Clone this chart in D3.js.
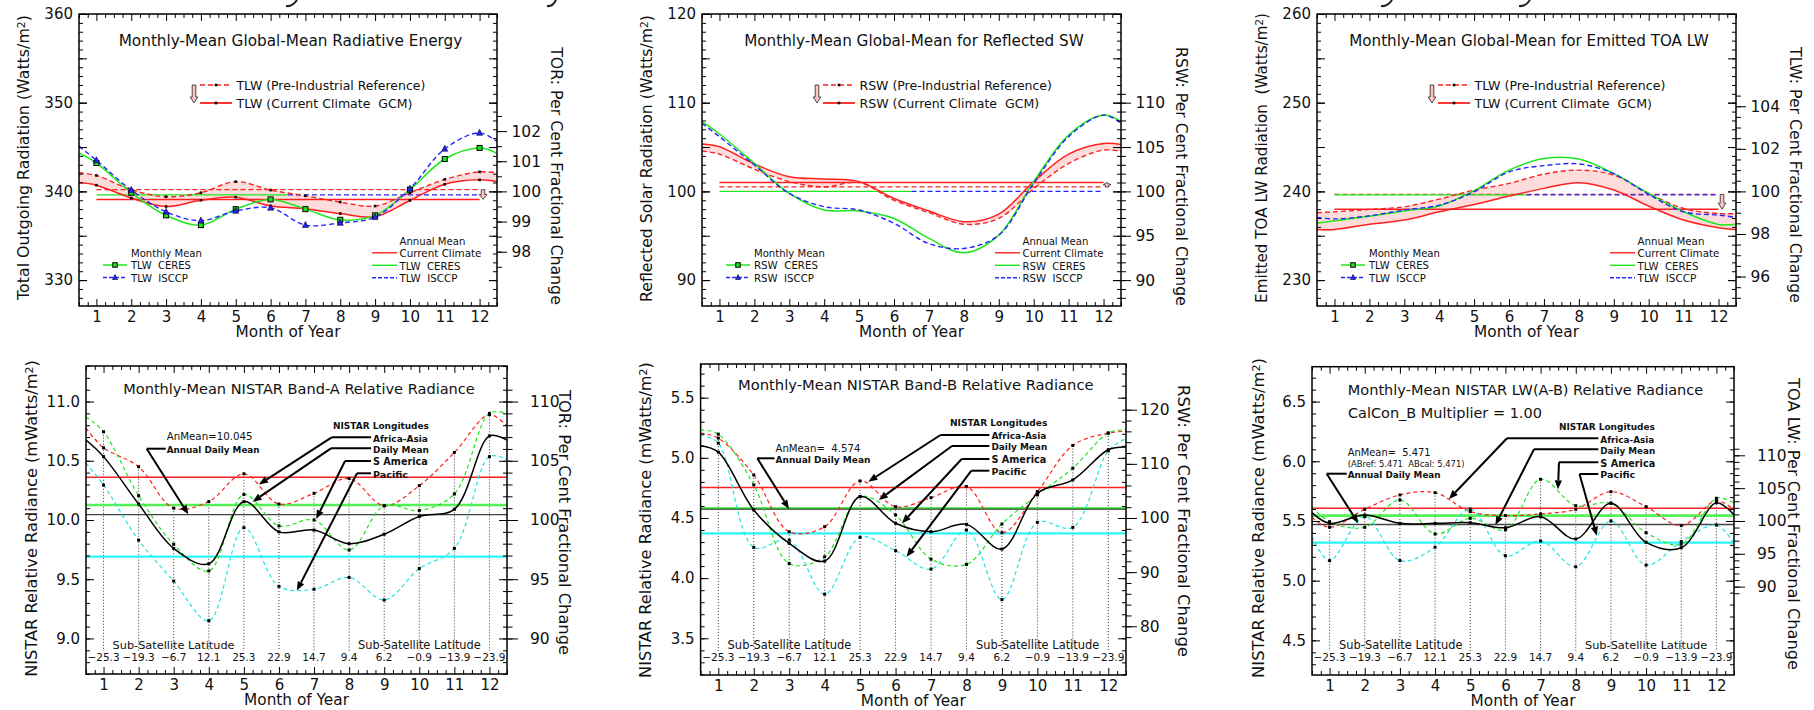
<!DOCTYPE html>
<html>
<head>
<meta charset="utf-8">
<script src="https://cdn.jsdelivr.net/npm/d3@7"></script>
<style>
  body { margin: 0; background: #fff; }
  svg text { font-family: "DejaVu Sans", sans-serif; fill: #111; white-space: pre; }
</style>
</head>
<body>
<svg id="chart" width="1814" height="710"></svg>
<script>
/*global d3*/

// months: curves run from the left frame edge (0.5) to the right one (12.5)
const xs = [0.5, 1, 2, 3, 4, 5, 6, 7, 8, 9, 10, 11, 12, 12.5];
const months = [1, 2, 3, 4, 5, 6, 7, 8, 9, 10, 11, 12];
const latitudes = ["\u221225.3", "\u221219.3", "\u22126.7", "12.1", "25.3", "22.9",
                   "14.7", "9.4", "6.2", "\u22120.9", "\u221213.9", "\u221223.9"];

// top left: total outgoing radiation (W/m2)
const tlwPre   = [342.1, 341.8, 340.2, 339.4, 339.85, 341.1, 340.15, 339.5, 338.8, 338.35, 339.85, 341.35, 342.2, 342.1];
const tlwCur   = [341.0, 340.7, 339.25, 338.3, 339.0, 339.35, 338.35, 338.05, 337.5, 337.15, 338.98, 340.8, 341.3, 341.1];
const tlwCeres = [344.3, 343.2, 339.85, 337.3, 336.2, 338.0, 339.1, 338.0, 336.8, 337.3, 340.2, 343.65, 344.9, 344.3];
const tlwIsccp = [345.1, 343.5, 340.15, 337.7, 336.7, 337.8, 338.15, 336.2, 336.45, 337.1, 340.3, 344.8, 346.6, 345.6];
const tlwMeans = [340.2, 339.1, 339.6, 339.6];   // pre, current, ceres, isccp

// top middle: reflected SW
const rswPre   = [104.55, 104.2, 102.5, 101.1, 100.5, 101.0, 99.0, 97.6, 96.3, 96.95, 100.3, 103.15, 104.66, 104.5];
const rswCur   = [105.34, 105.04, 103.1, 101.65, 101.4, 101.1, 99.2, 97.8, 96.58, 97.44, 101.1, 104.2, 105.4, 105.3];
const rswCeres = [107.86, 106.47, 103.16, 99.77, 97.9, 97.8, 96.95, 94.7, 93.08, 95.07, 101.1, 106.35, 108.6, 107.86];
const rswIsccp = [107.67, 106.17, 102.97, 99.77, 98.27, 97.9, 96.4, 94.1, 93.57, 95.07, 100.9, 106.17, 108.6, 107.7];
const rswMeans = [100.5, 101.0, 100.0, 100.0];

// top right: emitted TOA LW
const olrPre   = [237.6, 237.7, 237.97, 238.27, 239.13, 240.15, 240.9, 241.95, 242.4, 241.84, 239.77, 238.08, 237.5, 237.5];
const olrCur   = [235.7, 235.7, 236.3, 236.77, 237.7, 238.53, 239.47, 240.34, 240.98, 240.15, 238.35, 236.77, 235.9, 235.7];
const olrCeres = [236.4, 236.7, 237.2, 237.8, 238.35, 240.08, 242.4, 243.7, 243.65, 242.0, 239.77, 237.7, 236.28, 236.3];
const olrIsccp = [237.07, 236.9, 237.25, 237.9, 238.46, 239.96, 242.2, 242.9, 243.1, 242.0, 239.66, 237.7, 237.33, 237.07];
const olrMeans = [239.66, 238.0, 239.6, 239.6];

// bottom left: NISTAR band A (mW/m2)
const aAfrica  = [10.775, 10.61, 10.45, 10.10, 10.155, 10.39, 10.135, 10.225, 10.35, 10.12, 10.29, 10.57, 10.89, 10.79];
const aSAm     = [10.87, 10.745, 10.205, 9.795, 9.57, 10.215, 9.95, 10.0, 9.747, 10.12, 10.08, 10.22, 10.90, 10.90];
const aDaily   = [10.675, 10.535, 10.135, 9.76, 9.63, 10.155, 9.90, 9.915, 9.80, 9.88, 10.03, 10.09, 10.71, 10.675];
const aPacific = [10.48, 10.295, 9.83, 9.485, 9.15, 9.935, 9.44, 9.415, 9.515, 9.325, 9.59, 9.76, 10.535, 10.51];
const aMeans   = [10.36, 10.127, 10.045, 9.69];   // africa, s america, daily, pacific

// bottom middle: NISTAR band B
const bAfrica  = [5.206, 5.164, 4.858, 4.386, 4.428, 4.808, 4.594, 4.669, 4.761, 4.378, 4.719, 5.103, 5.206, 5.22];
const bSAm     = [5.233, 5.197, 4.775, 4.122, 4.178, 4.678, 4.525, 4.158, 4.114, 4.45, 4.692, 4.914, 5.206, 5.233];
const bDaily   = [5.1, 5.047, 4.567, 4.289, 4.142, 4.678, 4.456, 4.386, 4.447, 4.242, 4.706, 4.817, 5.067, 5.09];
const bPacific = [5.19, 5.122, 4.256, 4.317, 3.867, 4.339, 4.228, 4.075, 4.4, 3.822, 4.464, 4.422, 5.058, 5.16];
const bMeans   = [4.753, 4.58, 4.574, 4.372];

// bottom right: NISTAR LW (A-B)
const lwAfrica  = [5.53, 5.447, 5.598, 5.718, 5.737, 5.578, 5.545, 5.559, 5.598, 5.745, 5.62, 5.461, 5.67, 5.592];
const lwSAm     = [5.62, 5.494, 5.447, 5.676, 5.391, 5.522, 5.425, 5.849, 5.628, 5.648, 5.402, 5.305, 5.69, 5.65];
const lwDaily   = [5.57, 5.48, 5.55, 5.48, 5.48, 5.486, 5.444, 5.536, 5.349, 5.648, 5.321, 5.276, 5.653, 5.55];
const lwPacific = [5.368, 5.168, 5.536, 5.168, 5.28, 5.6, 5.209, 5.332, 5.117, 5.5, 5.131, 5.327, 5.466, 5.313];
const lwMeans   = [5.606, 5.545, 5.471, 5.318];

const RED = '#ff2020', GREEN = '#1ee61e', BLUE = '#2424ff', CYAN = '#20e4e4', PINK = '#ffdcdc';

const svg = d3.select('#chart');
const defs = svg.append('defs');

function vals(a, b, step) {
    const out = [];
    for (let i = Math.ceil(a / step - 1e-9); i * step <= b + 1e-9; i++) out.push(+(i * step).toFixed(6));
    return out;
}

// scale the font so the text spans w pixels
function fit(t, w) {
    const len = t.node().getComputedTextLength();
    if (len > 0) t.attr('font-size', +t.attr('font-size') * w / len);
    return t;
}

function txt(g, x, y, s, o = {}) {
    const t = g.append('text').attr('x', x).attr('y', y)
        .attr('font-size', o.size || 12)
        .attr('text-anchor', o.anchor || 'start')
        .text(s);
    if (o.bold) t.attr('font-weight', 'bold');
    if (o.w) fit(t, o.w);
    return t;
}

function vlabel(g, x, y, main, rot, w) {
    const t = g.append('text')
        .attr('transform', `translate(${x},${y}) rotate(${rot})`)
        .attr('text-anchor', 'middle').attr('dy', '0.36em').attr('font-size', 16);
    if (main.indexOf('^') >= 0) {
        const [a, b] = main.split('^');
        t.append('tspan').text(a);
        t.append('tspan').attr('baseline-shift', '38%').style('font-size', '0.68em').text(b[0]);
        t.append('tspan').text(b.slice(1));
    } else {
        t.text(main);
    }
    fit(t, w);
}

function styleTicks(sel, size) {
    sel.select('.domain').remove();
    sel.selectAll('.tick line').attr('stroke', '#000').attr('stroke-width', 1);
    sel.selectAll('.tick text').attr('font-size', size || 15)
        .attr('font-family', '"DejaVu Sans", sans-serif').attr('fill', '#111');
}

function frame(c) {
    const x = d3.scaleLinear().domain([0.5, 12.5]).range([c.x0, c.x1]);
    const y = d3.scaleLinear().domain(c.yDom).range([c.y1, c.y0]);
    const g = svg.append('g');
    defs.append('clipPath').attr('id', 'clip' + c.id)
        .append('rect').attr('x', c.x0).attr('y', c.y0)
        .attr('width', c.x1 - c.x0).attr('height', c.y1 - c.y0);
    const plot = g.append('g').attr('clip-path', `url(#clip${c.id})`);
    return { x, y, g, plot };
}

function axes(c, x, y, g) {
    const [lo, hi] = c.yDom;
    const add = (tr, axis, size) => g.append('g').attr('transform', tr).call(axis).call(s => styleTicks(s, size));
    const L = `translate(${c.x0},0)`, R = `translate(${c.x1},0)`;
    const B = `translate(0,${c.y1})`, T = `translate(0,${c.y0})`;

    // left axis + inner mirror on the right
    const minorY = vals(lo, hi, c.yMinor), majorY = vals(lo, hi, c.yMajor);
    add(L, d3.axisLeft(y).tickValues(minorY).tickSize(-4).tickFormat(''));
    add(R, d3.axisRight(y).tickValues(minorY).tickSize(-4).tickFormat(''));
    if (c.yMid) {
        add(L, d3.axisLeft(y).tickValues(vals(lo, hi, c.yMid)).tickSize(-8).tickFormat(''));
        add(R, d3.axisRight(y).tickValues(vals(lo, hi, c.yMid)).tickSize(-8).tickFormat(''));
    }
    add(L, d3.axisLeft(y).tickValues(majorY).tickSize(-8).tickPadding(6).tickFormat(d3.format(c.yFmt)));
    add(R, d3.axisRight(y).tickValues(majorY).tickSize(-8).tickFormat(''));

    // month axes, quarter-month minor ticks
    const quarters = vals(0.5, 12.5, 0.25).filter(v => v % 1 !== 0);
    add(B, d3.axisBottom(x).tickValues(quarters).tickSize(-4).tickFormat(''));
    add(T, d3.axisTop(x).tickValues(quarters).tickSize(-4).tickFormat(''));
    add(B, d3.axisBottom(x).tickValues(months).tickSize(-7).tickPadding(5).tickFormat(d3.format('d')));
    add(T, d3.axisTop(x).tickValues(months).tickSize(-7).tickFormat(''));

    // percent axis on the right
    const p = d3.scaleLinear().domain(y.domain().map(v => v / c.base * 100)).range(y.range());
    add(R, d3.axisRight(p).tickValues(vals(c.pRange[0], c.pRange[1], c.pMinor)).tickSize(c.pTick / 2).tickFormat(''));
    add(R, d3.axisRight(p).tickValues(vals(c.pRange[0], c.pRange[1], c.pMajor))
        .tickSize(c.pTick).tickPadding(c.pGap - c.pTick).tickFormat(d3.format('d')), 15.5);

    g.append('rect').attr('x', c.x0).attr('y', c.y0).attr('width', c.x1 - c.x0).attr('height', c.y1 - c.y0)
        .attr('fill', 'none').attr('stroke', '#000').attr('stroke-width', 1.5);

    const cx = (c.x0 + c.x1) / 2;
    txt(g, cx, c.y1 + 31, 'Month of Year', { size: 14, anchor: 'middle', w: 105 });
    txt(g, cx + 2.5, c.titleY, c.title, { size: 14, anchor: 'middle', w: c.titleW });
    vlabel(g, c.leftX, c.leftY, c.leftLabel, -90, c.leftW);
    vlabel(g, c.rightX, c.rightY, c.rightLabel, 90, c.rightW);
}

function pinkArrow(g, cx, y0, y1) {
    const len = y1 - y0, dir = len < 0 ? -1 : 1;
    const head = Math.min(6, Math.abs(len) * 0.5) * dir;
    const sw = 1.8, hw = 3.8;
    g.append('path')
        .attr('d', `M${cx - sw},${y0}L${cx + sw},${y0}L${cx + sw},${y1 - head}L${cx + hw},${y1 - head}` +
                   `L${cx},${y1}L${cx - hw},${y1 - head}L${cx - sw},${y1 - head}Z`)
        .attr('fill', '#ffc4c4').attr('stroke', '#222').attr('stroke-width', 0.8);
}

function square(g, cx, cy, s, fill) {
    g.append('rect').attr('x', cx - s / 2).attr('y', cy - s / 2).attr('width', s).attr('height', s)
        .attr('fill', fill).attr('stroke', '#000').attr('stroke-width', fill === '#000' ? 0 : 1);
}

function triangle(g, cx, cy, s, fill) {
    g.append('path').attr('d', `M${cx},${cy - s * 0.6}L${cx + s / 2},${cy + s * 0.4}L${cx - s / 2},${cy + s * 0.4}Z`)
        .attr('fill', fill).attr('stroke', '#002').attr('stroke-width', 0.6);
}

const curve = d3.curveCatmullRom.alpha(0.5);

function radPanel(c, d) {
    const { x, y, g, plot } = frame(c);
    const rows = xs.map((m, i) => ({ m, pre: d.pre[i], cur: d.cur[i], ceres: d.ceres[i], isccp: d.isccp[i] }));

    plot.append('path').datum(rows)
        .attr('d', d3.area().x(r => x(r.m)).y0(r => y(r.cur)).y1(r => y(r.pre)).curve(curve))
        .attr('fill', PINK);

    const hline = (v, m0, m1, col, dash, w) => plot.append('line')
        .attr('x1', x(m0)).attr('x2', x(m1)).attr('y1', y(v)).attr('y2', y(v))
        .attr('stroke', col).attr('stroke-width', w).attr('stroke-dasharray', dash);
    hline(d.means[0], 1, 12, RED, '5,3', 1.2);
    hline(d.means[1], 1, 12, RED, null, 1.5);
    hline(d.means[2], 1, 6.5, GREEN, null, 1.3);
    hline(d.means[3], 6.5, 12, BLUE, '5,3', 1.2);

    const ln = key => d3.line().x(r => x(r.m)).y(r => y(r[key])).curve(curve);
    const path = (key, col, dash, w) => plot.append('path').datum(rows).attr('d', ln(key))
        .attr('fill', 'none').attr('stroke', col).attr('stroke-width', w).attr('stroke-dasharray', dash);
    path('pre', RED, '5,3', 1.4);
    path('cur', RED, null, 1.5);
    path('ceres', GREEN, null, 1.5);
    path('isccp', BLUE, '5,3', 1.4);

    if (c.markers) {
        rows.slice(1, 13).forEach(r => {
            square(plot, x(r.m), y(r.pre), 2.6, '#000');
            square(plot, x(r.m), y(r.cur), 2.6, '#000');
            square(plot, x(r.m), y(r.ceres), 5, GREEN);
            triangle(plot, x(r.m), y(r.isccp), 6, BLUE);
        });
    }

    // arrow between the two annual means
    pinkArrow(g, x(12.1), y(d.means[0]), y(d.means[1]));

    axes(c, x, y, g);

    // legends
    const L = c.x0;
    pinkArrow(g, L + 115, 85, 103);
    g.append('line').attr('x1', L + 121).attr('x2', L + 153).attr('y1', 85).attr('y2', 85)
        .attr('stroke', RED).attr('stroke-width', 1.4).attr('stroke-dasharray', '5,3');
    square(g, L + 137, 85, 2.6, '#000');
    txt(g, L + 157.5, 89.5, `${c.q} (Pre-Industrial Reference)`, { w: c.legW[0] });
    g.append('line').attr('x1', L + 121).attr('x2', L + 153).attr('y1', 103).attr('y2', 103)
        .attr('stroke', RED).attr('stroke-width', 1.8);
    square(g, L + 137, 103, 2.6, '#000');
    txt(g, L + 157.5, 107.5, `${c.q} (Current Climate  GCM)`, { w: c.legW[1] });

    txt(g, L + 52, 256.5, 'Monthly Mean', { size: 10, w: c.mmW[0] });
    g.append('line').attr('x1', L + 24).attr('x2', L + 48).attr('y1', 265).attr('y2', 265)
        .attr('stroke', GREEN).attr('stroke-width', 1.5);
    square(g, L + 36, 265, 4.5, GREEN);
    txt(g, L + 52, 269, `${c.q}  CERES`, { size: 10, w: c.mmW[1] });
    g.append('line').attr('x1', L + 24).attr('x2', L + 48).attr('y1', 277.5).attr('y2', 277.5)
        .attr('stroke', BLUE).attr('stroke-width', 1.4).attr('stroke-dasharray', '4,2');
    triangle(g, L + 36, 277.5, 5, BLUE);
    txt(g, L + 52, 281.5, `${c.q}  ISCCP`, { size: 10, w: c.mmW[2] });

    const A = L + 320.5;
    txt(g, A, 245, 'Annual Mean', { size: 10, w: c.amW[0] });
    const samp = (yy, col, dash) => g.append('line').attr('x1', L + 293).attr('x2', L + 318).attr('y1', yy).attr('y2', yy)
        .attr('stroke', col).attr('stroke-width', 1.4).attr('stroke-dasharray', dash);
    samp(252.8, RED, null);
    txt(g, A, 257, 'Current Climate', { size: 10, w: c.amW[1] });
    samp(265.3, GREEN, null);
    txt(g, A, 269.5, `${c.q}  CERES`, { size: 10, w: c.amW[2] });
    samp(277.7, BLUE, '4,2');
    txt(g, A, 282, `${c.q}  ISCCP`, { size: 10, w: c.amW[3] });
}

function arrowLine(g, x0, y0, x1, y1) {
    const a = Math.atan2(y1 - y0, x1 - x0), hl = 9, hw = 3.6;
    const bx = x1 - hl * Math.cos(a), by = y1 - hl * Math.sin(a);
    g.append('line').attr('x1', x0).attr('y1', y0).attr('x2', bx).attr('y2', by)
        .attr('stroke', '#000').attr('stroke-width', 2);
    g.append('path').attr('d', `M${x1},${y1}L${bx + hw * Math.sin(a)},${by - hw * Math.cos(a)}` +
                               `L${bx - hw * Math.sin(a)},${by + hw * Math.cos(a)}Z`).attr('fill', '#000');
}

function nistarPanel(c, s) {
    const { x, y, g, plot } = frame(c);
    const series = [
        { v: s.africa, mean: s.means[0], col: RED, dash: '4,3', mcol: RED, mw: 1.5 },
        { v: s.sam, mean: s.means[1], col: GREEN, dash: '4,3', mcol: '#55f055', mw: 2.6 },
        { v: s.pacific, mean: s.means[3], col: CYAN, dash: '4,3', mcol: '#2ef6f6', mw: 2.2 },
        { v: s.daily, mean: s.means[2], col: '#000', dash: null, mcol: '#444', mw: 1.4 }
    ];

    months.forEach((m, k) => {
        const top = d3.max(series, ser => ser.v[k + 1]);
        plot.append('line').attr('x1', x(m)).attr('x2', x(m)).attr('y1', y(top)).attr('y2', c.dotBottom)
            .attr('stroke', '#000').attr('stroke-width', 0.8).attr('stroke-dasharray', '1,2');
    });
    series.forEach(ser => plot.append('line').attr('x1', x(0.5)).attr('x2', x(12.5))
        .attr('y1', y(ser.mean)).attr('y2', y(ser.mean))
        .attr('stroke', ser.mcol).attr('stroke-width', ser.mw));

    const ln = arr => d3.line().x((v, i) => x(xs[i])).y(v => y(v)).curve(curve)(arr);
    series.forEach(ser => plot.append('path').attr('d', ln(ser.v)).attr('fill', 'none')
        .attr('stroke', ser.col).attr('stroke-width', ser.dash ? 1.2 : 1.5).attr('stroke-dasharray', ser.dash));
    series.forEach(ser => months.forEach((m, k) => square(plot, x(m), y(ser.v[k + 1]), 3, '#000')));

    axes(c, x, y, g);

    // latitude row
    c.subsat.forEach(([sx, sw]) => txt(g, sx, c.dotBottom - 2, 'Sub-Satellite Latitude', { size: 12, w: sw }));
    months.forEach((m, k) => txt(g, x(m), c.dotBottom + 10, latitudes[k], { size: 10.5, anchor: 'middle' }));

    // annual mean note
    c.notes.forEach(n => txt(g, c.noteX, n.y, n.s, { size: n.size || 11, bold: n.bold, w: n.w }));
    const adm = c.admLeader;
    g.append('line').attr('x1', adm.knee[0]).attr('x2', c.noteX - 1).attr('y1', adm.knee[1]).attr('y2', adm.knee[1])
        .attr('stroke', '#000').attr('stroke-width', 2);
    arrowLine(g, adm.knee[0], adm.knee[1], x(adm.tip[0]), y(adm.tip[1]));

    // longitude legend
    txt(g, c.lonHead[0], c.lonHead[1], 'NISTAR Longitudes', { size: 11, bold: true, w: c.lonHead[2] });
    c.lon.forEach(d => {
        txt(g, c.lonX, d.y + 4.3, d.s, { size: 11, bold: true, w: d.w });
        g.append('line').attr('x1', d.knee).attr('x2', c.lonX - 2).attr('y1', d.y).attr('y2', d.y)
            .attr('stroke', '#000').attr('stroke-width', 2);
        arrowLine(g, d.knee, d.y, x(d.tip[0]), y(d.tip[1]));
    });
    if (c.extra) c.extra(g);
}

// descenders of the figure heading that is cut off above the page
[[297, 286], [556, 547], [1392, 1381], [1530, 1519]].forEach(([a, b]) =>
    svg.append('path').attr('d', `M${a},0Q${(a + b) / 2 + 1},7 ${b},6`)
        .attr('fill', 'none').attr('stroke', '#222').attr('stroke-width', 2));

// ---------- top row ----------
const topBase = { titleY: 46, yMinor: 1, yMid: 5, yMajor: 10, yFmt: 'd', pMinor: 0.5, pTick: 10, pGap: 14.5, markers: false };

radPanel(Object.assign({}, topBase, {
    id: 1, x0: 79, x1: 497, y0: 14, y1: 306, yDom: [327.08, 360], base: 340, pRange: [97.5, 102.5], pMajor: 1,
    title: 'Monthly-Mean Global-Mean Radiative Energy', titleW: 344,
    leftLabel: 'Total Outgoing Radiation (Watts/m^2)', leftX: 23, leftY: 157.5, leftW: 285,
    rightLabel: 'TOR: Per Cent Fractional Change', rightX: 557, rightY: 176, rightW: 258,
    q: 'TLW', legW: [189, 176], mmW: [71, 60, 57], amW: [66, 82, 61, 58], markers: true
}), { pre: tlwPre, cur: tlwCur, ceres: tlwCeres, isccp: tlwIsccp, means: tlwMeans });

radPanel(Object.assign({}, topBase, {
    id: 2, x0: 702, x1: 1121, y0: 14, y1: 306, yDom: [87.08, 120], base: 100, pRange: [88, 111], pMajor: 5, pMinor: 1,
    title: 'Monthly-Mean Global-Mean for Reflected SW', titleW: 340,
    leftLabel: 'Reflected Solar Radiation (Watts/m^2)', leftX: 646.6, leftY: 158.5, leftW: 287,
    rightLabel: 'RSW: Per Cent Fractional Change', rightX: 1181.5, rightY: 176.5, rightW: 259,
    q: 'RSW', legW: [192.5, 180], mmW: [71, 64, 60], amW: [66, 81, 63, 60]
}), { pre: rswPre, cur: rswCur, ceres: rswCeres, isccp: rswIsccp, means: rswMeans });

radPanel(Object.assign({}, topBase, {
    id: 3, x0: 1317, x1: 1736, y0: 14, y1: 306, yDom: [227.08, 260], base: 240, pRange: [95, 104.5], pMajor: 2,
    title: 'Monthly-Mean Global-Mean for Emitted TOA LW', titleW: 360,
    leftLabel: 'Emitted TOA LW Radiation  (Watts/m^2)', leftX: 1261.3, leftY: 158, leftW: 290,
    rightLabel: 'TLW: Per Cent Fractional Change', rightX: 1796, rightY: 175, rightW: 256,
    q: 'TLW', legW: [191, 177.6], mmW: [71, 60, 57], amW: [67, 82, 61, 59]
}), { pre: olrPre, cur: olrCur, ceres: olrCeres, isccp: olrIsccp, means: olrMeans });

// ---------- bottom row ----------
const botBase = { yMinor: 0.1, yMajor: 0.5, yFmt: '.1f', pMinor: 1, pMajor: 5, pTick: 11, pGap: 23, dotBottom: 651 };

nistarPanel(Object.assign({}, botBase, {
    id: 4, x0: 86, x1: 507, y0: 366, y1: 674, yDom: [8.70, 11.30], base: 10, pRange: [90, 111],
    title: 'Monthly-Mean NISTAR Band-A Relative Radiance', titleW: 352, titleY: 394,
    leftLabel: 'NISTAR Relative Radiance (mWatts/m^2)', leftX: 31, leftY: 518.5, leftW: 317,
    rightLabel: 'TOR: Per Cent Fractional Change', rightX: 565, rightY: 522.5, rightW: 265,
    subsat: [[112.6, 122], [358, 123]],
    noteX: 166.7,
    notes: [{ s: 'AnMean=10.045', y: 440, w: 86 }, { s: 'Annual Daily Mean', y: 453, w: 93, bold: true }],
    admLeader: { knee: [146.7, 448.7], tip: [3.416, 10.048] },
    lonHead: [333, 429, 96], lonX: 373,
    lon: [
        { s: 'Africa-Asia', y: 437.3, w: 55, knee: 331.7, tip: [5.43, 10.30] },
        { s: 'Daily Mean', y: 448.3, w: 56, knee: 331, tip: [5.25, 10.154] },
        { s: 'S America', y: 461, w: 55, knee: 345, tip: [7.06, 10.008] },
        { s: 'Pacific', y: 473.3, w: 35, knee: 357, tip: [6.51, 9.404] }
    ]
}), { africa: aAfrica, sam: aSAm, daily: aDaily, pacific: aPacific, means: aMeans });

nistarPanel(Object.assign({}, botBase, {
    id: 5, x0: 700.6, x1: 1126, y0: 364, y1: 675, yDom: [3.195, 5.78], base: 4.5, pRange: [78, 121],
    pMinor: 2, pMajor: 10, pGap: 14,
    title: 'Monthly-Mean NISTAR Band-B Relative Radiance', titleW: 356, titleY: 390,
    leftLabel: 'NISTAR Relative Radiance (mWatts/m^2)', leftX: 645.5, leftY: 520, leftW: 316,
    rightLabel: 'RSW: Per Cent Fractional Change', rightX: 1183.5, rightY: 521, rightW: 272,
    subsat: [[727.6, 124], [976, 123.4]],
    noteX: 775.5,
    notes: [{ s: 'AnMean=  4.574', y: 452, w: 85 }, { s: 'Annual Daily Mean', y: 462.5, w: 95, bold: true }],
    admLeader: { knee: [757.3, 458.3], tip: [2.994, 4.575] },
    lonHead: [950, 426, 97.5], lonX: 991.4,
    lon: [
        { s: 'Africa-Asia', y: 435, w: 55, knee: 940.5, tip: [5.233, 4.802] },
        { s: 'Daily Mean', y: 446, w: 56, knee: 952, tip: [5.527, 4.65] },
        { s: 'S America', y: 459, w: 55, knee: 961.7, tip: [6.18, 4.456] },
        { s: 'Pacific', y: 470.7, w: 35, knee: 971.4, tip: [6.31, 4.178] }
    ]
}), { africa: bAfrica, sam: bSAm, daily: bDaily, pacific: bPacific, means: bMeans });

nistarPanel(Object.assign({}, botBase, {
    id: 6, x0: 1312, x1: 1734, y0: 366.7, y1: 675, yDom: [4.21, 6.792], base: 5.5, pRange: [89, 111],
    title: 'Monthly-Mean NISTAR LW(A-B) Relative Radiance', titleW: 356, titleY: 395,
    leftLabel: 'NISTAR Relative Radiance (mWatts/m^2)', leftX: 1258.2, leftY: 518, leftW: 320,
    rightLabel: 'TOA LW: Per Cent Fractional Change', rightX: 1794, rightY: 524, rightW: 292,
    subsat: [[1339, 123.6], [1585, 122.5]],
    noteX: 1347.7,
    notes: [{ s: 'AnMean=  5.471', y: 456, w: 83 },
            { s: '(ABref: 5.471  ABcal: 5.471)', y: 466.5, w: 117, size: 9 },
            { s: 'Annual Daily Mean', y: 478, w: 93, bold: true }],
    admLeader: { knee: [1326.7, 473.7], tip: [1.816, 5.481] },
    lonHead: [1559, 430, 96], lonX: 1600.3,
    lon: [
        { s: 'Africa-Asia', y: 438.3, w: 54, knee: 1507, tip: [4.395, 5.684] },
        { s: 'Daily Mean', y: 449.3, w: 55, knee: 1534, tip: [5.715, 5.466] },
        { s: 'S America', y: 462.3, w: 55, knee: 1559, tip: [7.495, 5.765] },
        { s: 'Pacific', y: 474, w: 35, knee: 1579.5, tip: [8.598, 5.377] }
    ],
    extra: g => txt(g, 1348, 418, 'CalCon_B Multiplier = 1.00', { size: 15, w: 194 })
}), { africa: lwAfrica, sam: lwSAm, daily: lwDaily, pacific: lwPacific, means: lwMeans });
</script>
</body>
</html>
